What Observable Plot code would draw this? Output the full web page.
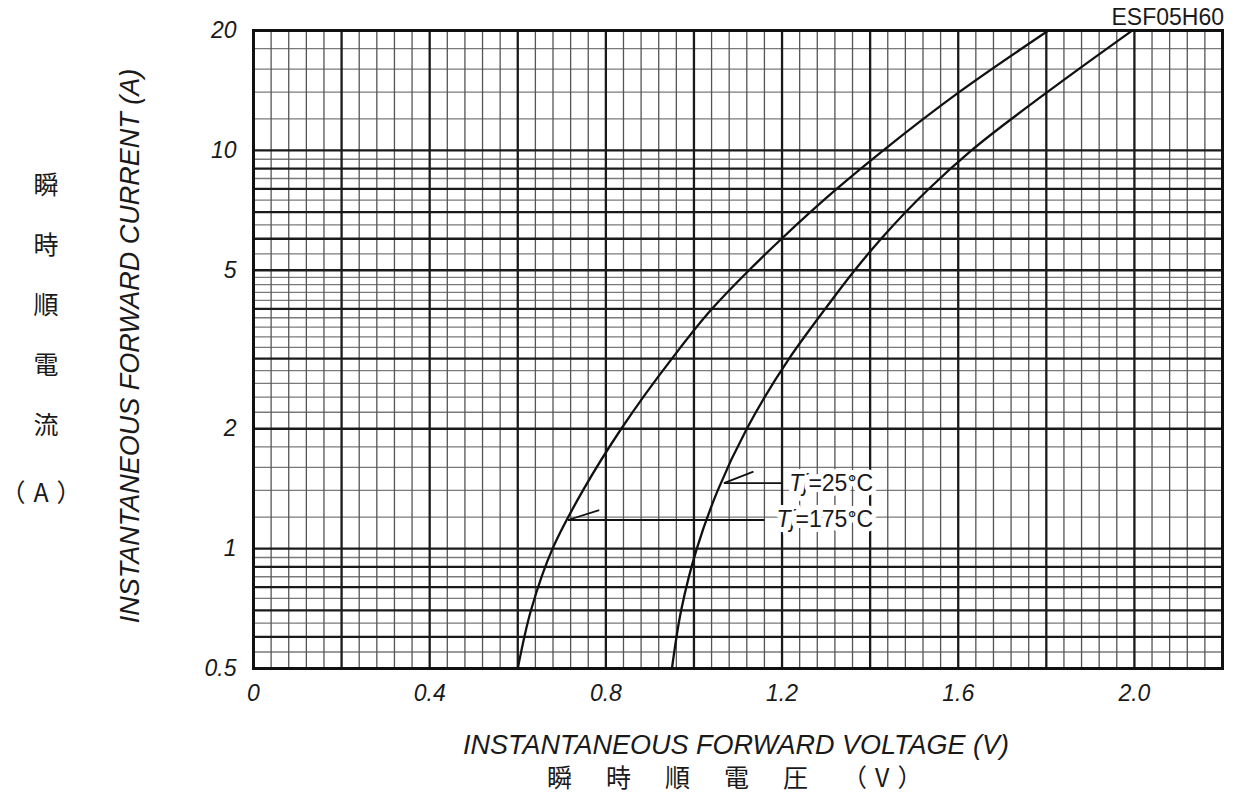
<!DOCTYPE html>
<html><head><meta charset="utf-8">
<script src="https://cdn.jsdelivr.net/npm/d3@7"></script>
<script src="https://cdn.jsdelivr.net/npm/@observablehq/plot@0.6"></script>
<style>
body{margin:0;background:#fff;}
#wrap{position:relative;width:1237px;height:801px;font-family:"Liberation Sans",Arial,sans-serif;color:#1a1a1a;overflow:hidden;}
.abs{position:absolute;white-space:nowrap;line-height:1;}
.jp{font-family:"Noto Sans CJK JP","Noto Sans CJK SC",sans-serif;}
</style></head><body>
<div id="wrap">
  <div id="chart"></div>
  <div class="abs" id="model" style="right:13px;top:6px;font-size:23px;">ESF05H60</div>
  <div class="abs" id="ytitle" style="left:130px;top:346px;font-size:27px;font-style:italic;transform:translate(-50%,-50%) rotate(-90deg);">INSTANTANEOUS FORWARD CURRENT (A)</div>
  <div class="abs" id="xtitle" style="left:736px;top:732px;font-size:27px;font-style:italic;transform:translateX(-50%);">INSTANTANEOUS FORWARD VOLTAGE (V)</div>
  <div class="abs jp" id="yjp" style="left:21px;top:153px;width:50px;text-align:center;font-size:25px;line-height:60px;"></div>
  <div class="abs jp" id="yjpunit" style="left:45px;top:479px;font-size:25px;transform:translateX(-50%);letter-spacing:8px;"></div>
  <div class="abs jp" id="xjp" style="left:547px;top:764px;font-size:25px;"></div>
</div>
<script>
// ---- data ----
const xTicks = [0, 0.4, 0.8, 1.2, 1.6, 2.0];
const yTicks = [0.5, 1, 2, 5, 10, 20];
const xMajor = [0, 0.2, 0.4, 0.6, 0.8, 1.0, 1.2, 1.4, 1.6, 1.8, 2.0, 2.2];
const yMajor = [0.5, 0.6, 0.7, 0.8, 0.9, 1, 2, 3, 4, 5, 6, 7, 8, 9, 10, 20];
const yMinor = [0.55, 0.65, 0.75, 0.85, 0.95, 1.2, 1.4, 1.6, 1.8, 2.2, 2.4, 2.6, 2.8,
  3.2, 3.4, 3.6, 3.8, 4.2, 4.4, 4.6, 4.8, 5.5, 6.5, 7.5, 8.5, 9.5, 12, 14, 16, 18];

// Tj = 175°C (left curve)
const i175 = [0.5, 0.7, 1, 1.4, 2, 3, 4, 5, 6, 8, 10, 14, 20];
const v175 = [0.600, 0.630, 0.679, 0.748, 0.835, 0.950, 1.041, 1.125, 1.199, 1.324, 1.430, 1.602, 1.805];
// Tj = 25°C (right curve)
const i25 = [0.5, 0.7, 1, 1.4, 2, 3, 4, 5, 6, 8, 10, 14, 20];
const v25 = [0.950, 0.971, 1.0065, 1.054, 1.120, 1.216, 1.298, 1.365, 1.425, 1.533, 1.630, 1.802, 1.995];

// curve labels
const labelText = ["Tj=25°C", "Tj=175°C"];
const labelTipV = [1.068, 0.714];
const labelTipI = [1.46, 1.18];
const labelBarbV = [1.135, 0.785];
const labelBarbI = [1.56, 1.25];
const labelLeaderEndV = [1.20, 1.16];
const labelTextEndV = [1.407, 1.407];

const yJapanese = ["瞬", "時", "順", "電", "流"];
const yJapaneseUnit = "（A）";
const xJapanese = ["瞬", "時", "順", "電", "圧"];
const xJapaneseUnit = "（V）";

// ---- build ----
const xMinor = d3.range(0, 56).filter(i => i % 5 !== 0).map(i => i * 0.04);
const curves = [
  ...i175.map((I, k) => ({V: v175[k], I, s: "175"})),
  ...i25.map((I, k) => ({V: v25[k], I, s: "25"}))
];
const labels = labelText.map((t, k) => ({
  t, tipV: labelTipV[k], tipI: labelTipI[k], barbV: labelBarbV[k], barbI: labelBarbI[k],
  endV: labelLeaderEndV[k], textV: labelTextEndV[k]
}));

const plot = Plot.plot({
  width: 1237, height: 801,
  marginLeft: 253, marginRight: 15, marginTop: 30, marginBottom: 133,
  style: {fontFamily: "'Liberation Sans', Arial, sans-serif", fontSize: "23px", fontStyle: "italic", color: "#1a1a1a", background: "white"},
  x: {domain: [0, 2.2], ticks: xTicks, tickFormat: d => d === 0 ? "0" : d.toFixed(1), tickSize: 0, tickPadding: 16, label: null},
  y: {type: "log", domain: [0.5, 20], ticks: yTicks, tickFormat: d => String(d), tickSize: 0, tickPadding: 17, label: null},
  marks: [
    Plot.ruleY(yMinor, {stroke: "#7a7a7a", strokeWidth: 1.3}),
    Plot.ruleX(xMinor, {stroke: "#555", strokeWidth: 1.3}),
    Plot.ruleY(yMajor, {stroke: "#1a1a1a", strokeWidth: 2.3}),
    Plot.ruleX(xMajor, {stroke: "#1a1a1a", strokeWidth: 2.3}),
    Plot.line(curves, {x: "V", y: "I", z: "s", stroke: "#111", strokeWidth: 2.3, curve: "monotone-y"}),
    Plot.link(labels, {x1: "tipV", y1: "tipI", x2: "endV", y2: "tipI", stroke: "#111", strokeWidth: 1.8}),
    Plot.link(labels, {x1: "tipV", y1: "tipI", x2: "barbV", y2: "barbI", stroke: "#111", strokeWidth: 1.8}),
    Plot.text(labels, {x: "textV", y: "tipI", text: "t", textAnchor: "end", fontSize: 23, fontStyle: "normal",
      fill: "#1a1a1a", stroke: "white", strokeWidth: 10, strokeLinejoin: "round"}),
    Plot.frame({stroke: "#111", strokeWidth: 3})
  ]
});
document.getElementById("chart").appendChild(plot);

d3.select(plot).selectAll("text").filter(function() { return this.textContent.startsWith("Tj"); })
  .each(function() {
    const t = this.textContent;
    this.textContent = "";
    d3.select(this).append("tspan").attr("font-style", "italic").text("Tj");
    d3.select(this).append("tspan").text(t.slice(2));
  });

document.getElementById("yjp").innerHTML = yJapanese.join("<br>");
document.getElementById("yjpunit").textContent = yJapaneseUnit;
document.getElementById("xjp").innerHTML =
  '<span style="letter-spacing:34px">' + xJapanese.join("") + '</span><span style="letter-spacing:8px">' + xJapaneseUnit + '</span>';
</script>
</body></html>
